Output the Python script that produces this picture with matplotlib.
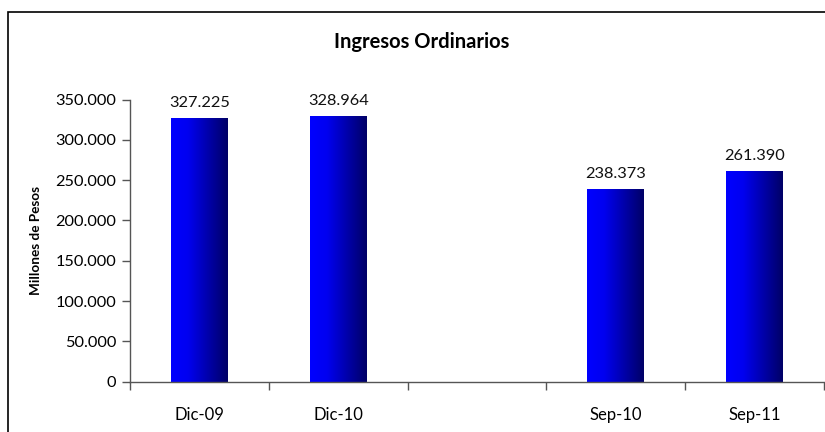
import matplotlib
matplotlib.use("Agg")
import matplotlib.pyplot as plt
import numpy as np
from matplotlib.colors import LinearSegmentedColormap
from matplotlib.patches import Rectangle
from matplotlib.ticker import FuncFormatter

categories = ["Dic-09", "Dic-10", "", "Sep-10", "Sep-11"]
values = [327225, 328964, np.nan, 238373, 261390]
yticks = [0, 50000, 100000, 150000, 200000, 250000, 300000, 350000]
title = "Ingresos Ordinarios"
ylabel = "Millones de Pesos"

plt.rcParams['font.family'] = ['Lato', 'DejaVu Sans']

fig = plt.figure(figsize=(8.25, 4.32), dpi=100)
fig.patch.set_facecolor('white')
ax = fig.add_axes([130/825, 1-381.7/432, (824-130)/825, (381.7-99.5)/432])

def fmt(v):
    return f"{v:,.0f}".replace(",", ".")

x = np.arange(len(categories))
width = 0.41
bars = ax.bar(x, values, width=width, color='none', edgecolor='none')
cmap = LinearSegmentedColormap.from_list("g", [(0, "#0000FF"), (0.3, "#0000F0"), (1, "#000066")])
grad = np.linspace(0, 1, 256).reshape(1, -1)
for b, v in zip(bars, values):
    if np.isnan(v):
        continue
    x0 = b.get_x()
    ax.imshow(grad, extent=[x0, x0 + b.get_width(), 0, v], aspect='auto', cmap=cmap,
              zorder=2, interpolation='bilinear')
    ax.annotate(fmt(v), (b.get_x() + b.get_width()/2, v), xytext=(0, 6),
                textcoords='offset points', ha='center', va='bottom', fontsize=11.8,
                color='#111111')

ax.set_xlim(-0.5, len(categories) - 0.5)
ax.set_ylim(0, 350000)
ax.set_yticks(yticks)
ax.yaxis.set_major_formatter(FuncFormatter(lambda v, p: fmt(v)))
ax.set_xticks(x)
ax.set_xticklabels(categories)
ax.set_xticks(np.arange(-0.5, len(categories)), minor=True)
ax.tick_params(axis='x', which='major', length=0, pad=18, labelsize=12)
ax.tick_params(axis='x', which='minor', length=6, width=1, color='#555555', direction='out')
ax.tick_params(axis='y', length=6, width=1, color='#555555', pad=4, labelsize=11.8)

for s in ['top', 'right']:
    ax.spines[s].set_visible(False)
for s in ['left', 'bottom']:
    ax.spines[s].set_color('#555555')
    ax.spines[s].set_linewidth(1)

ax.set_ylabel(ylabel, fontsize=9.8, fontweight='bold')
ax.yaxis.set_label_coords((42 - 130) / 694, 0.5)
fig.text(422/825, 1-42/432, title, ha='center', va='center', fontsize=14.5, fontweight='bold')

fig.patches.append(Rectangle((8/825, -0.1), 1.2, 1 - 12/432 + 0.1, transform=fig.transFigure,
                             fill=False, edgecolor='black', linewidth=1.2))

fig.savefig("out.png", dpi=100)
